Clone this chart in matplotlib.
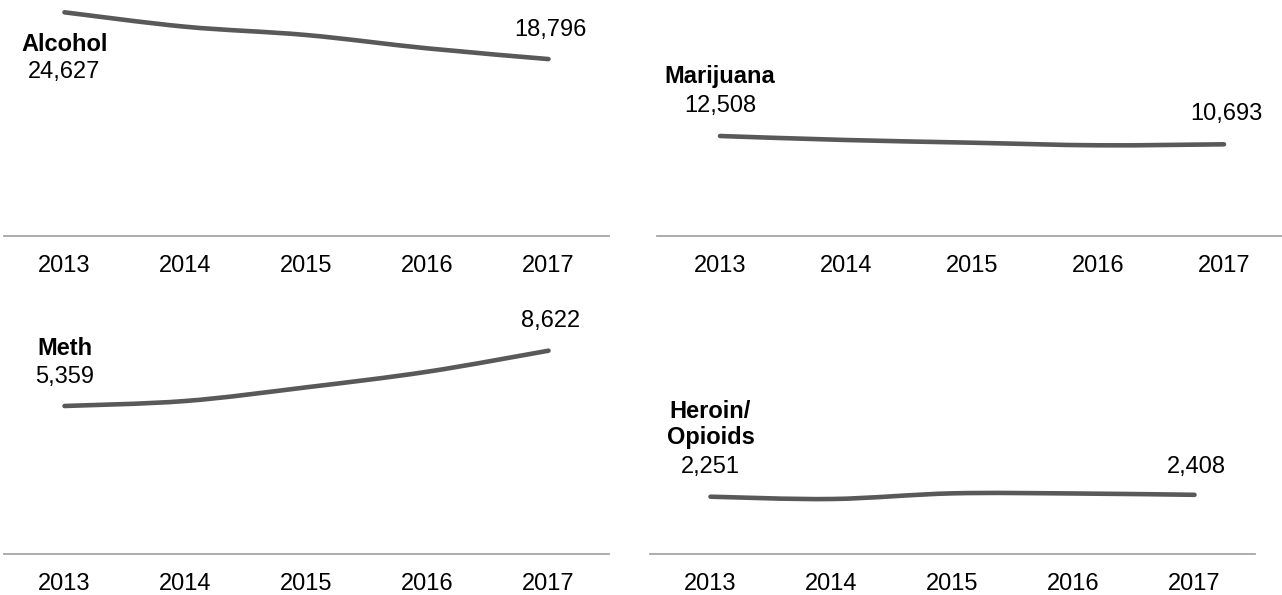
import matplotlib.pyplot as plt
from matplotlib.path import Path
from matplotlib.patches import PathPatch

plt.rcParams['font.family'] = ['Liberation Sans', 'DejaVu Sans']

# ------------------------------------------------------------
# Datos
# ------------------------------------------------------------
YEARS = ['2013', '2014', '2015', '2016', '2017']

ALCOHOL   = [24627, 22829, 21793, 20132, 18796]
MARIJUANA = [12508, 11633, 11043, 10474, 10693]
METH      = [5359, 5654, 6462, 7383, 8622]
HEROIN    = [2251, 2059, 2530, 2520, 2408]

NAMES = [['Alcohol'], ['Marijuana'], ['Meth'], ['Heroin/', 'Opioids']]
SERIES = [ALCOHOL, MARIJUANA, METH, HEROIN]

# ------------------------------------------------------------
# Layout (pixeles sobre una figura de 1282 x 595)
# (izq, der, arriba, linea base), limites y, offsets de etiquetas
# ------------------------------------------------------------
W, H = 1282, 595
RECTS  = [(4, 609, 0, 236), (657, 1287, 0, 236),
          (4, 609, 300, 554), (650, 1255, 300, 554)]
YLIMS  = [(-3267, 26163), (-9359, 42248), (-3374, 11613), (-2524, 18643)]
NAME_DY  = [-38.7, 53, 51, 52.7]      # baseline de la ultima linea del nombre
START_DY = [-65.7, 24, 23, 23.7]
END_DY   = [23, 24.3, 23.7, 22.3]

LINE_COLOR = '#595959'
AXIS_COLOR = '#a6a6a6'
FS = 17


def smooth_path(xs, ys):
    "Curva tipo Catmull-Rom (como las lineas suavizadas de Excel)"
    pts = list(zip(xs, ys))
    n = len(pts)
    verts = [pts[0]]
    codes = [Path.MOVETO]
    for i in range(n - 1):
        p0 = pts[max(i - 1, 0)]
        p1 = pts[i]
        p2 = pts[i + 1]
        p3 = pts[min(i + 2, n - 1)]
        c1 = (p1[0] + (p2[0] - p0[0]) / 6, p1[1] + (p2[1] - p0[1]) / 6)
        c2 = (p2[0] - (p3[0] - p1[0]) / 6, p2[1] - (p3[1] - p1[1]) / 6)
        verts += [c1, c2, p2]
        codes += [Path.CURVE4] * 3
    return Path(verts, codes)


fig = plt.figure(figsize=(W / 100, H / 100), dpi=100)

for k, values in enumerate(SERIES):
    l, r, t, b = RECTS[k]
    ax = fig.add_axes([l / W, (H - b) / H, (r - l) / W, (b - t) / H])
    ax.set_xlim(-0.5, 4.5)
    ax.set_ylim(*YLIMS[k])
    ax.patch.set_alpha(0)

    xs = list(range(len(values)))
    patch = PathPatch(smooth_path(xs, values), facecolor='none',
                      edgecolor=LINE_COLOR, lw=3.3,
                      capstyle='round', joinstyle='round', clip_on=False)
    ax.add_patch(patch)

    # nombre (una o dos lineas)
    lines = NAMES[k]
    for j, txt in enumerate(lines):
        dy = NAME_DY[k] + 26 * (len(lines) - 1 - j)
        ax.annotate(txt, (xs[0], values[0]), xytext=(0, dy),
                    textcoords='offset pixels', ha='center', va='baseline',
                    fontsize=FS, fontweight='bold', color='black')

    ax.annotate(f'{values[0]:,}', (xs[0], values[0]), xytext=(0, START_DY[k]),
                textcoords='offset pixels', ha='center', va='baseline',
                fontsize=FS, color='black')
    ax.annotate(f'{values[-1]:,}', (xs[-1], values[-1]), xytext=(2, END_DY[k]),
                textcoords='offset pixels', ha='center', va='baseline',
                fontsize=FS, color='black')

    for side in ['top', 'left', 'right']:
        ax.spines[side].set_visible(False)
    ax.spines['bottom'].set_color(AXIS_COLOR)
    ax.spines['bottom'].set_linewidth(1.3)
    ax.set_yticks([])
    ax.set_xticks(xs)
    ax.set_xticklabels(YEARS, fontsize=FS)
    ax.tick_params(axis='x', length=0, pad=13.5)

fig.savefig('out.png', dpi=100)
